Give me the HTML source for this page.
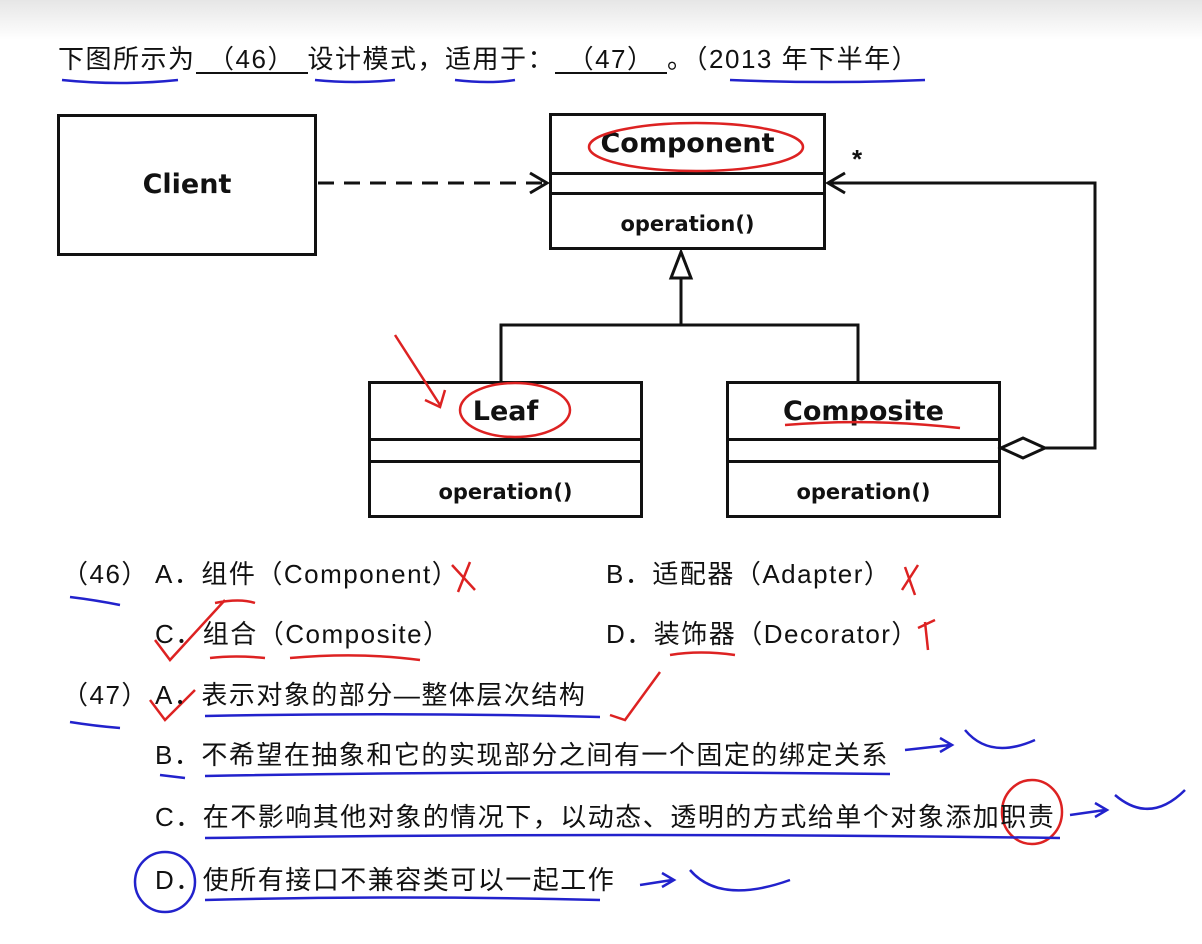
<!DOCTYPE html>
<html><head><meta charset="utf-8"><style>
html,body{margin:0;padding:0;}
body{width:1202px;height:944px;position:relative;overflow:hidden;background:#fff;font-family:"Liberation Sans","Noto Sans CJK SC",sans-serif;color:#111;}
.top{position:absolute;left:0;top:0;width:1202px;height:40px;background:linear-gradient(#e6e6e6,#fff);}
.t{position:absolute;font-size:26px;white-space:nowrap;line-height:1;letter-spacing:1.5px;}
.box{position:absolute;border:3px solid #111;box-sizing:border-box;background:#fff;}
.b{position:absolute;font-weight:bold;font-family:"DejaVu Sans","Liberation Sans",sans-serif;text-align:center;width:100%;}
.hr{position:absolute;left:0;width:100%;border-top:3px solid #111;}
</style></head><body>
<div class="top"></div>
<div class="t" style="left:58px;top:46px;">下图所示为<span style="display:inline-block;width:112px;border-bottom:2px solid #111;text-align:center;">（46）</span>设计模式，适用于：<span style="display:inline-block;width:112px;border-bottom:2px solid #111;text-align:center;">（47）</span>。（2013 年下半年）</div>

<div class="box" style="left:57px;top:114px;width:260px;height:142px;"><div class="b" style="top:52px;font-size:27px;">Client</div></div>

<div class="box" style="left:549px;top:113px;width:277px;height:137px;">
<div class="b" style="top:12px;font-size:27px;">Component</div>
<div class="hr" style="top:56px;"></div><div class="hr" style="top:76px;"></div>
<div class="b" style="top:96px;font-size:21px;">operation()</div></div>

<div class="box" style="left:368px;top:381px;width:275px;height:137px;">
<div class="b" style="top:12px;font-size:27px;">Leaf</div>
<div class="hr" style="top:54px;"></div><div class="hr" style="top:76px;"></div>
<div class="b" style="top:96px;font-size:21px;">operation()</div></div>

<div class="box" style="left:726px;top:381px;width:275px;height:137px;">
<div class="b" style="top:12px;font-size:27px;">Composite</div>
<div class="hr" style="top:54px;"></div><div class="hr" style="top:76px;"></div>
<div class="b" style="top:96px;font-size:21px;">operation()</div></div>

<svg width="1202" height="944" style="position:absolute;left:0;top:0;" fill="none">
<line x1="318" y1="183" x2="545" y2="183" stroke="#111" stroke-width="3" stroke-dasharray="16,10"/>
<polyline points="530,173 547,183 530,193" stroke="#111" stroke-width="3"/>
<polygon points="681,252 671,278 691,278" stroke="#111" stroke-width="3" fill="#fff"/>
<polyline points="681,278 681,325 501,325 501,381" stroke="#111" stroke-width="3"/>
<polyline points="681,325 858,325 858,381" stroke="#111" stroke-width="3"/>
<polygon points="1001,448 1023,438 1045,448 1023,458" stroke="#111" stroke-width="3" fill="#fff"/>
<polyline points="1045,448 1095,448 1095,183 828,183" stroke="#111" stroke-width="3"/>
<polyline points="845,173 828,183 845,193" stroke="#111" stroke-width="3"/>
<text x="852" y="168" font-size="26" font-weight="bold" fill="#111" font-family="Liberation Sans">*</text>
<g stroke="#d22" stroke-width="2.5">
<ellipse cx="696" cy="147" rx="107" ry="24"/>
<ellipse cx="515" cy="410" rx="55" ry="27"/>
<path d="M395 335 L440 405 M425 400 L440 407 L445 390"/>
<path d="M785 425 Q870 418 960 428"/>
<path d="M452 565 L475 590 M470 562 L458 592"/>
<path d="M905 567 L915 595 M902 590 L918 565"/>
<path d="M925 622 L928 650 M918 628 L935 620"/>
<path d="M155 640 L170 660 L225 600"/>
<path d="M150 700 L165 720 L195 690"/>
<path d="M610 715 L625 720 L660 672"/>
<ellipse cx="1032" cy="812" rx="30" ry="32"/>
<path d="M215 603 Q240 598 255 603 M670 655 Q700 650 735 655 M210 658 Q235 655 265 658 M290 658 Q360 652 420 660"/>
</g>
<g stroke="#22c" stroke-width="2.5">
<path d="M62 80 Q120 86 178 80 M315 80 Q355 84 395 80 M455 80 Q490 84 515 80 M730 80 Q830 84 925 80"/>
<path d="M70 597 Q95 600 120 605 M70 722 Q95 726 120 728 M160 775 L185 778"/>
<path d="M205 716 Q400 712 600 717 M205 776 Q540 770 890 774 M205 838 Q620 832 1060 838 M205 900 Q400 895 600 900"/>
<ellipse cx="165" cy="882" rx="30" ry="30"/>
<path d="M905 750 L950 745 M940 738 L952 745 L940 752 M965 730 Q990 760 1035 740"/>
<path d="M1070 815 L1105 810 M1095 803 L1107 810 L1095 817 M1115 795 Q1150 825 1185 790"/>
<path d="M640 885 L672 880 M662 873 L674 880 L662 887 M690 870 Q720 905 790 880"/>
</g>
</svg>

<div class="t" style="left:62px;top:561px;">（46）</div>
<div class="t" style="left:155px;top:561px;">A．组件（Component）</div>
<div class="t" style="left:606px;top:561px;">B．适配器（Adapter）</div>
<div class="t" style="left:155px;top:621px;">C．组合（Composite）</div>
<div class="t" style="left:606px;top:621px;">D．装饰器（Decorator）</div>
<div class="t" style="left:62px;top:682px;">（47）</div>
<div class="t" style="left:155px;top:682px;">A．表示对象的部分—整体层次结构</div>
<div class="t" style="left:155px;top:742px;">B．不希望在抽象和它的实现部分之间有一个固定的绑定关系</div>
<div class="t" style="left:155px;top:804px;">C．在不影响其他对象的情况下，以动态、透明的方式给单个对象添加职责</div>
<div class="t" style="left:155px;top:867px;">D．使所有接口不兼容类可以一起工作</div>
</body></html>
